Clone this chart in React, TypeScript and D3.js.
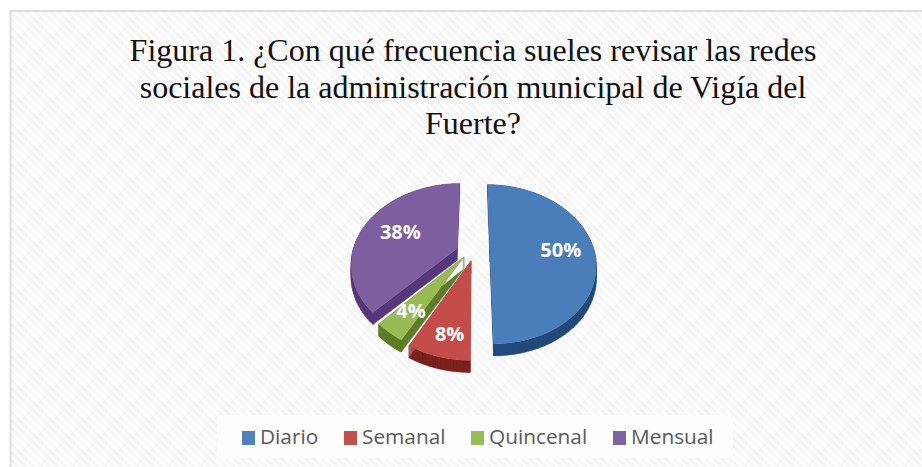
import React from "react";
import * as d3 from "d3";

const titleLines = [
  "Figura 1. ¿Con qué frecuencia sueles revisar las redes",
  "sociales de la administración municipal de Vigía del",
  "Fuerte?",
];
const categories = ["Diario", "Semanal", "Quincenal", "Mensual"];
const values = [50, 8, 4, 38];
const labels = ["50%", "8%", "4%", "38%"];
const topColors = ["#4a7ebb", "#c44d4a", "#98bb55", "#7d5fa0"];
const sideColors = ["#23497a", "#7c2320", "#5f7c2c", "#56397a"];
const legendColors = ["#4f81bd", "#c0504d", "#9bbb59", "#8064a2"];
const legendX = [242, 344, 471, 613];
// world offsets of each exploded slice: x in px, y as fraction of the radius
const explodeX = [16, -3, -10, -17];
const explodeY = [0, 0.14, 0.09, -0.02];
const labelRadius = [0.68, 0.8, 0.74, 0.62];
const labelShift = [0, 4, 0, 0];

const W = 922, H = 467, CX = 474, CY = 250, RX = 104, RY = 77, P = 0.18, DEPTH = 12;

function project(a: number, r: number, i: number): [number, number] {
  const X = r * Math.sin(a) * RX + explodeX[i];
  const Y = -r * Math.cos(a) + explodeY[i];
  const s = 1 / (1 - Y * P);
  return [CX + X * s, CY + Y * RY * s];
}

export default function App() {
  const arcs = d3.pie<number>().sort(null)(values);
  const line = d3.line();
  const slices = arcs.map((d, i) => {
    const n = 60;
    const angle = d3.scaleLinear().domain([0, n]).range([d.startAngle, d.endAngle]);
    const outline: [number, number][] = [project(0, 0, i)];
    for (let k = 0; k <= n; k++) outline.push(project(angle(k), 1, i));
    const quads = outline.map((p, k) => {
      const q = outline[(k + 1) % outline.length];
      return line([p, q, [q[0], q[1] + DEPTH], [p[0], p[1] + DEPTH]]) + "Z";
    });
    const mid = (d.startAngle + d.endAngle) / 2;
    return { top: line(outline) + "Z", side: quads.join(""), label: project(mid, labelRadius[i], i) };
  });

  return (
    <svg width={W} height={H} style={{ position: "absolute", left: 0, top: 0, background: "#fff" }}>
      <defs>
        <pattern id="hatch" width="8" height="8" patternUnits="userSpaceOnUse" patternTransform="translate(0 1)">
          <rect width="8" height="8" fill="#fefefe" />
          <path d="M-2 6L2 10M0 0L8 8M6 -2L10 2" stroke="#f6f6f6" strokeWidth="2.6" />
        </pattern>
        <pattern id="blocks" width="32" height="32" patternUnits="userSpaceOnUse" patternTransform="translate(11 1)">
          <rect width="16" height="16" fill="#000" opacity="0.012" />
          <rect x="16" y="16" width="16" height="16" fill="#000" opacity="0.012" />
        </pattern>
        <filter id="soft" x="-5%" y="-5%" width="110%" height="110%">
          <feGaussianBlur stdDeviation="0.7" />
        </filter>
      </defs>
      <rect x={10.5} y={11} width={W} height={H} fill="url(#hatch)" stroke="#dedede" strokeWidth={2} />
      <rect x={11.5} y={12} width={W} height={H} fill="url(#blocks)" />
      <g fontFamily="'Liberation Serif'" fontSize={32} fill="#111" textAnchor="middle">
        {titleLines.map((t, i) => (
          <text key={t} x={473} y={61 + i * 36.5}>{t}</text>
        ))}
      </g>
      <g filter="url(#soft)">
        {slices.map((s, i) => (
          <g key={i}>
            <path d={s.side} fill={sideColors[i]} stroke={sideColors[i]} strokeWidth={0.5} />
            <path d={s.top} fill={topColors[i]} />
          </g>
        ))}
      </g>
      <g fontFamily="'Open Sans'" fontWeight={700} fontSize={20} fill="#fff" textAnchor="middle">
        {slices.map((s, i) => (
          <text key={i} x={s.label[0] + labelShift[i]} y={s.label[1] + 7}>{labels[i]}</text>
        ))}
      </g>
      <rect x={217} y={415} width={516} height={43} fill="#fdfdfd" />
      <g fontFamily="'Open Sans'" fontSize={20.8} fill="#595959">
        {categories.map((c, i) => (
          <g key={c}>
            <rect x={legendX[i]} y={431} width={13} height={14} fill={legendColors[i]} />
            <text x={legendX[i] + 18} y={444}>{c}</text>
          </g>
        ))}
      </g>
    </svg>
  );
}
